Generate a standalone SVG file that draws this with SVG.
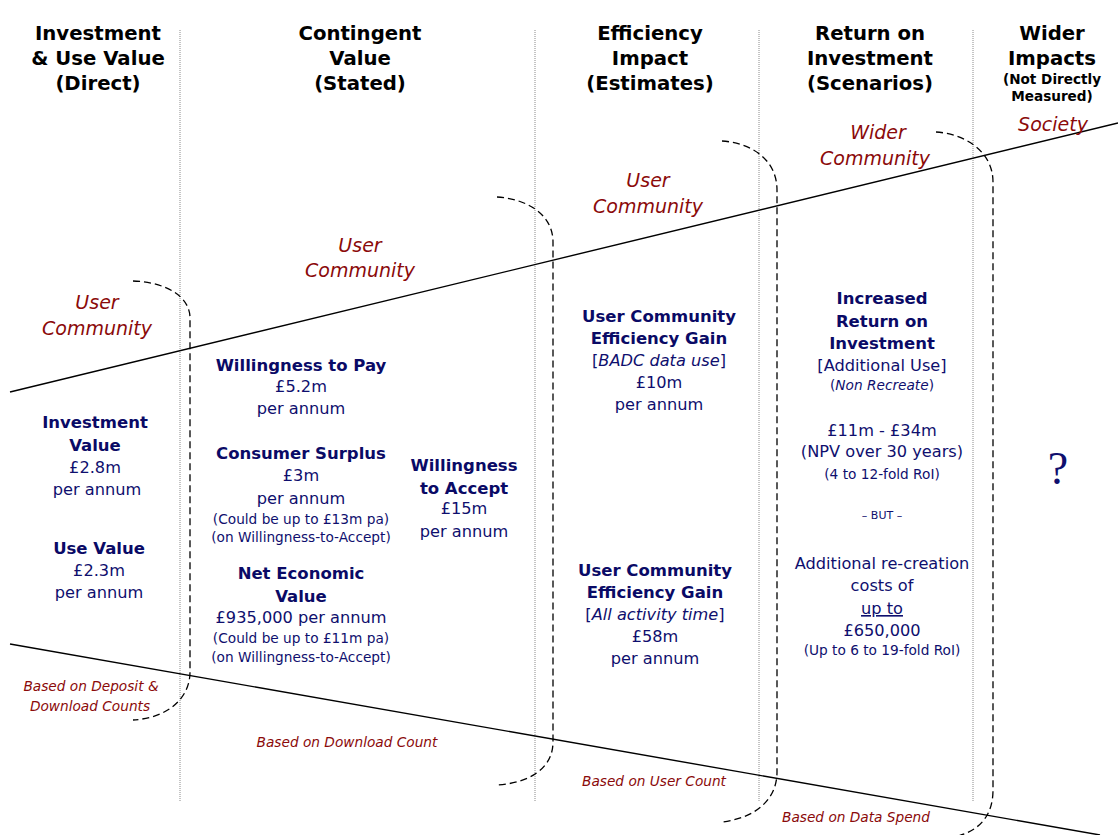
<svg xmlns="http://www.w3.org/2000/svg" width="1118" height="835" viewBox="0 0 1118 835">
<style>
text{font-family:"DejaVu Sans","Liberation Sans",sans-serif;text-anchor:middle}
.hd{font-weight:bold;font-size:19.7px;fill:#000}
.hs{font-weight:bold;font-size:13.6px;fill:#000}
.lab{font-style:italic;font-size:19px;fill:#8b0a0a}
.bas{font-style:italic;font-size:13.7px;fill:#8b0a0a}
.b{font-weight:bold;font-size:16.5px;fill:#0a0a66}
.r{font-size:16.2px;fill:#0f0f6e}
.s{font-size:13.7px;fill:#0f0f6e}
.t{font-size:11px;fill:#0f0f6e}
.i{font-style:italic}
.q{font-family:"Liberation Serif",serif;font-size:46px;fill:#0f0f6e}
.dot{stroke:#8a8a8a;stroke-width:1;stroke-dasharray:1 1;fill:none}
.dash{stroke:#000;stroke-width:1.3;stroke-dasharray:7 4;fill:none}
.solid{stroke:#000;stroke-width:1.4;fill:none}
</style>
<rect width="1118" height="835" fill="#fff"/>
<g id="connectors">
<line class="dot" x1="180" y1="30" x2="180" y2="801"/>
<line class="dot" x1="535" y1="30" x2="535" y2="801"/>
<line class="dot" x1="759" y1="30" x2="759" y2="801"/>
<line class="dot" x1="973" y1="30" x2="973" y2="801"/>
<line class="solid" x1="10" y1="392" x2="1118" y2="123"/>
<line class="solid" x1="10" y1="644" x2="1100" y2="835"/>
<path class="dash" d="M133,281 C165,282 190,296 190,318 L190,672 C190,698 168,718 133,720"/>
<path class="dash" d="M497,197 C528,199 553,215 553,242 L553,742 C553,768 530,783 497,785"/>
<path class="dash" d="M722,141 C752,143 777,160 777,190 L777,772 C777,800 755,818 722,822"/>
<path class="dash" d="M936,132 C966,134 993,152 993,182 L993,790 C993,815 980,830 958,836"/>
</g>
<g id="headers">
<text class="hd" x="98" y="40">Investment</text>
<text class="hd" x="98" y="65">&amp; Use Value</text>
<text class="hd" x="98" y="90">(Direct)</text>
<text class="hd" x="360" y="40">Contingent</text>
<text class="hd" x="360" y="65">Value</text>
<text class="hd" x="360" y="90">(Stated)</text>
<text class="hd" x="650" y="40">Efficiency</text>
<text class="hd" x="650" y="65">Impact</text>
<text class="hd" x="650" y="90">(Estimates)</text>
<text class="hd" x="870" y="40">Return on</text>
<text class="hd" x="870" y="65">Investment</text>
<text class="hd" x="870" y="90">(Scenarios)</text>
<text class="hd" x="1052" y="40">Wider</text>
<text class="hd" x="1052" y="65">Impacts</text>
<text class="hs" x="1052" y="84">(Not Directly</text>
<text class="hs" x="1052" y="101">Measured)</text>
</g>
<g id="scope-labels">
<text class="lab" x="97" y="309">User</text>
<text class="lab" x="97" y="335">Community</text>
<text class="lab" x="360" y="252">User</text>
<text class="lab" x="360" y="277">Community</text>
<text class="lab" x="648" y="187">User</text>
<text class="lab" x="648" y="213">Community</text>
<text class="lab" x="878" y="139">Wider</text>
<text class="lab" x="875" y="165">Community</text>
<text class="lab" x="1053" y="131">Society</text>
</g>
<g id="basis-labels">
<text class="bas" x="91" y="691">Based on Deposit &amp;</text>
<text class="bas" x="90" y="711">Download Counts</text>
<text class="bas" x="347" y="747">Based on Download Count</text>
<text class="bas" x="654" y="786">Based on User Count</text>
<text class="bas" x="856" y="822">Based on Data Spend</text>
</g>
<g id="node-investment">
<text class="b" x="95" y="428">Investment</text>
<text class="b" x="95" y="451">Value</text>
<text class="r" x="95" y="473">£2.8m</text>
<text class="r" x="97" y="495">per annum</text>
</g>
<g id="node-use">
<text class="b" x="99" y="554">Use Value</text>
<text class="r" x="99" y="576">£2.3m</text>
<text class="r" x="99" y="598">per annum</text>
</g>
<g id="node-wtp">
<text class="b" x="301" y="371">Willingness to Pay</text>
<text class="r" x="301" y="392">£5.2m</text>
<text class="r" x="301" y="414">per annum</text>
</g>
<g id="node-cs">
<text class="b" x="301" y="459">Consumer Surplus</text>
<text class="r" x="301" y="481">£3m</text>
<text class="r" x="301" y="504">per annum</text>
<text class="s" x="301" y="524">(Could be up to £13m pa)</text>
<text class="s" x="301" y="542">(on Willingness-to-Accept)</text>
</g>
<g id="node-nev">
<text class="b" x="301" y="579">Net Economic</text>
<text class="b" x="301" y="602">Value</text>
<text class="r" x="301" y="623">£935,000 per annum</text>
<text class="s" x="301" y="643">(Could be up to £11m pa)</text>
<text class="s" x="301" y="662">(on Willingness-to-Accept)</text>
</g>
<g id="node-wta">
<text class="b" x="464" y="471">Willingness</text>
<text class="b" x="464" y="494">to Accept</text>
<text class="r" x="464" y="514">£15m</text>
<text class="r" x="464" y="537">per annum</text>
</g>
<g id="node-eff1">
<text class="b" x="659" y="322">User Community</text>
<text class="b" x="659" y="344">Efficiency Gain</text>
<text class="r" x="659" y="366">[<tspan class="i">BADC data use</tspan>]</text>
<text class="r" x="659" y="388">£10m</text>
<text class="r" x="659" y="410">per annum</text>
</g>
<g id="node-eff2">
<text class="b" x="655" y="576">User Community</text>
<text class="b" x="655" y="598">Efficiency Gain</text>
<text class="r" x="655" y="620">[<tspan class="i">All activity time</tspan>]</text>
<text class="r" x="655" y="642">£58m</text>
<text class="r" x="655" y="664">per annum</text>
</g>
<g id="node-roi">
<text class="b" x="882" y="304">Increased</text>
<text class="b" x="882" y="327">Return on</text>
<text class="b" x="882" y="349">Investment</text>
<text class="r" x="882" y="371">[Additional Use]</text>
<text class="s" x="882" y="390">(<tspan class="i">Non Recreate</tspan>)</text>
<text class="r" x="882" y="436">£11m - £34m</text>
<text class="r" x="882" y="457">(NPV over 30 years)</text>
<text class="s" x="882" y="479">(4 to 12-fold RoI)</text>
<text class="t" x="882" y="519">– BUT –</text>
<text class="r" x="882" y="569">Additional re-creation</text>
<text class="r" x="882" y="591">costs of</text>
<text class="r" x="882" y="614" text-decoration="underline">up to</text>
<text class="r" x="882" y="636">£650,000</text>
<text class="s" x="882" y="655">(Up to 6 to 19-fold RoI)</text>
</g>
<g id="node-wider">
<text class="q" x="1058" y="484">?</text>
</g>
</svg>
